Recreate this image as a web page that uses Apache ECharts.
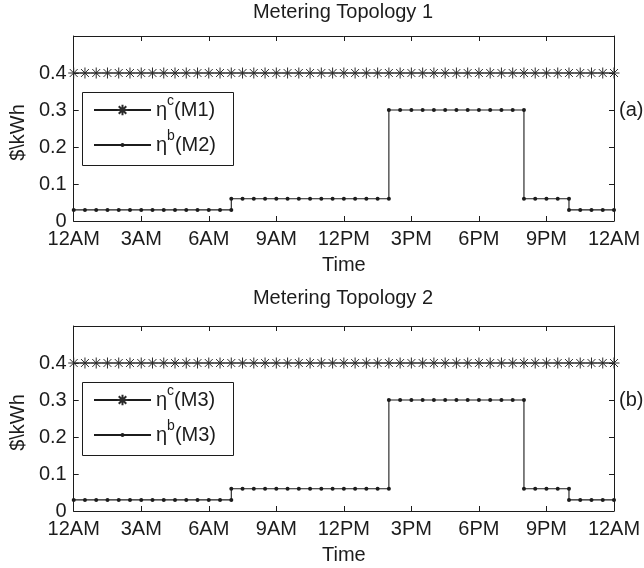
<!DOCTYPE html>
<html>
<head>
<meta charset="utf-8">
<script src="https://cdn.jsdelivr.net/npm/echarts@6/dist/echarts.min.js"></script>
<style>
html,body{margin:0;padding:0;background:#fff;}
#chart{width:644px;height:568px;}
</style>
</head>
<body>
<div id="chart"></div>
<script>
// ---------------- data ----------------
const chartTitles = ['Metering Topology 1', 'Metering Topology 2'];
const panelTags = ['(a)', '(b)'];
const xTickLabels = ['12AM', '3AM', '6AM', '9AM', '12PM', '3PM', '6PM', '9PM', '12AM'];
const yTickLabels = ['0', '0.1', '0.2', '0.3', '0.4', ''];
const xAxisTitle = 'Time';
const yAxisTitle = '$\\kWh';

// half-hour sample times (hours from midnight) for the flat tariff
const flatTimes = [0,0.5,1,1.5,2,2.5,3,3.5,4,4.5,5,5.5,6,6.5,7,7.5,8,8.5,9,9.5,10,10.5,11,11.5,
  12,12.5,13,13.5,14,14.5,15,15.5,16,16.5,17,17.5,18,18.5,19,19.5,20,20.5,21,21.5,22,22.5,23,23.5,24];
const flatPriceM1 = [0.4,0.4,0.4,0.4,0.4,0.4,0.4,0.4,0.4,0.4,0.4,0.4,0.4,0.4,0.4,0.4,0.4,0.4,0.4,0.4,
  0.4,0.4,0.4,0.4,0.4,0.4,0.4,0.4,0.4,0.4,0.4,0.4,0.4,0.4,0.4,0.4,0.4,0.4,0.4,0.4,0.4,0.4,0.4,0.4,0.4,0.4,0.4,0.4,0.4];
const flatPriceM3 = [0.4,0.4,0.4,0.4,0.4,0.4,0.4,0.4,0.4,0.4,0.4,0.4,0.4,0.4,0.4,0.4,0.4,0.4,0.4,0.4,
  0.4,0.4,0.4,0.4,0.4,0.4,0.4,0.4,0.4,0.4,0.4,0.4,0.4,0.4,0.4,0.4,0.4,0.4,0.4,0.4,0.4,0.4,0.4,0.4,0.4,0.4,0.4,0.4,0.4];

// time-of-use tariff sample times (duplicated at each price change)
const touTimes = [0,0.5,1,1.5,2,2.5,3,3.5,4,4.5,5,5.5,6,6.5,7,
  7,7.5,8,8.5,9,9.5,10,10.5,11,11.5,12,12.5,13,13.5,14,
  14,14.5,15,15.5,16,16.5,17,17.5,18,18.5,19,19.5,20,
  20,20.5,21,21.5,22,
  22,22.5,23,23.5,24];
const touPriceM2 = [0.03,0.03,0.03,0.03,0.03,0.03,0.03,0.03,0.03,0.03,0.03,0.03,0.03,0.03,0.03,
  0.06,0.06,0.06,0.06,0.06,0.06,0.06,0.06,0.06,0.06,0.06,0.06,0.06,0.06,0.06,
  0.3,0.3,0.3,0.3,0.3,0.3,0.3,0.3,0.3,0.3,0.3,0.3,0.3,
  0.06,0.06,0.06,0.06,0.06,
  0.03,0.03,0.03,0.03,0.03];
const touPriceM3 = [0.03,0.03,0.03,0.03,0.03,0.03,0.03,0.03,0.03,0.03,0.03,0.03,0.03,0.03,0.03,
  0.06,0.06,0.06,0.06,0.06,0.06,0.06,0.06,0.06,0.06,0.06,0.06,0.06,0.06,0.06,
  0.3,0.3,0.3,0.3,0.3,0.3,0.3,0.3,0.3,0.3,0.3,0.3,0.3,
  0.06,0.06,0.06,0.06,0.06,
  0.03,0.03,0.03,0.03,0.03];

// legend text pieces: series name, superscript, suffix
const legendNames = [['ηc(M1)', 'ηb(M2)'], ['ηc(M3)', 'ηb(M3)']];
const legendSup = [['c', 'b'], ['c', 'b']];
const legendSuffix = [['(M1)', '(M2)'], ['(M3)', '(M3)']];
const flatSeriesData = [flatPriceM1, flatPriceM3];
const touSeriesData = [touPriceM2, touPriceM3];

// ---------------- styling ----------------
const FONT = 'Liberation Sans';
const FS = 20;
const INK = '#1c1c1c';
const GRID_TOP = [36, 326];
const TITLE_Y = [12.5, 298];
const GRID_LEFT = 72, GRID_W = 542, GRID_H = 185;
const ASTERISK = 'path://M0,-5L0,5M-5,0L5,0M-3.6,-3.6L3.6,3.6M-3.6,3.6L3.6,-3.6';

const pairs = (xs, ys) => xs.map((x, i) => [x, ys[i]]);

const grid = [], xAxis = [], yAxis = [], series = [], legend = [], graphic = [];

for (let g = 0; g < 2; g++) {
  grid.push({ left: GRID_LEFT, top: GRID_TOP[g], width: GRID_W, height: GRID_H, containLabel: false });
  const axisLine = { show: true, onZero: false, lineStyle: { color: INK, width: 1 } };
  const tick = { show: true, inside: true, length: 5, lineStyle: { color: INK, width: 1 } };
  xAxis.push({
    type: 'value', gridIndex: g, position: 'bottom', min: 0, max: 24, interval: 3,
    axisLine, axisTick: tick, splitLine: { show: false },
    axisLabel: { color: INK, fontFamily: FONT, fontSize: FS, margin: 8,
      formatter: v => xTickLabels[Math.round(v / 3)] },
    name: xAxisTitle, nameLocation: 'middle', nameGap: 34,
    nameTextStyle: { color: INK, fontFamily: FONT, fontSize: FS }
  });
  xAxis.push({
    type: 'value', gridIndex: g, position: 'top', min: 0, max: 24, interval: 3,
    axisLine, axisTick: tick, splitLine: { show: false }, axisLabel: { show: false }
  });
  yAxis.push({
    type: 'value', gridIndex: g, position: 'left', min: 0, max: 0.5, interval: 0.1,
    axisLine, axisTick: tick, splitLine: { show: false },
    axisLabel: { color: INK, fontFamily: FONT, fontSize: FS, margin: 7,
      formatter: v => yTickLabels[Math.round(v * 10)] },
    name: yAxisTitle, nameLocation: 'middle', nameGap: 44,
    nameTextStyle: { color: INK, fontFamily: FONT, fontSize: FS, padding: [0, 8, 0, 0] }
  });
  yAxis.push({
    type: 'value', gridIndex: g, position: 'right', min: 0, max: 0.5, interval: 0.1,
    axisLine, axisTick: tick, splitLine: { show: false }, axisLabel: { show: false }
  });

  series.push({
    name: legendNames[g][0], type: 'line', xAxisIndex: 2 * g, yAxisIndex: 2 * g,
    data: pairs(flatTimes, flatSeriesData[g]),
    symbol: ASTERISK, symbolSize: 11, showSymbol: true, clip: false,
    lineStyle: { color: INK, width: 1.2 },
    itemStyle: { color: '#2a2a2a', borderColor: '#2a2a2a', borderWidth: 1 },
    emphasis: { disabled: true }, z: 3
  });
  series.push({
    name: legendNames[g][1], type: 'line', xAxisIndex: 2 * g, yAxisIndex: 2 * g,
    data: pairs(touTimes, touSeriesData[g]),
    symbol: 'circle', symbolSize: 4, showSymbol: true, clip: false,
    lineStyle: { color: INK, width: 1.1 },
    itemStyle: { color: INK, borderWidth: 0 },
    emphasis: { disabled: true }, z: 3
  });

  const off = GRID_TOP[g] - GRID_TOP[0];
  const legRows = [{ center: 111 + off, ih: 13 }, { center: 146 + off, ih: 5 }];
  const richH = 34;
  for (let k = 0; k < 2; k++) {
    const nm = legendNames[g][k];
    legend.push({
      data: [nm], orient: 'vertical', left: 93, top: legRows[k].center - richH / 2, padding: 0,
      itemWidth: 57, itemHeight: legRows[k].ih, itemGap: 0, itemTextGap: 4,
      selectedMode: false, borderWidth: 0, backgroundColor: 'transparent', z: 10,
      formatter: () => '{t|η}{s|' + legendSup[g][k] + '}{t|' + legendSuffix[g][k] + '}',
      textStyle: {
        color: INK, fontFamily: FONT, fontSize: FS,
        rich: {
          t: { color: INK, fontFamily: FONT, fontSize: FS, lineHeight: 22 },
          s: { color: INK, fontFamily: FONT, fontSize: 14, lineHeight: 14, padding: [0, 0, 18, 0] }
        }
      }
    });
  }

  graphic.push({
    type: 'rect', shape: { x: 82.5, y: 92.5 + off, width: 151, height: 73 },
    style: { fill: '#fff', stroke: INK, lineWidth: 1 }, z: 5
  });
  graphic.push({
    type: 'text', x: 343, y: TITLE_Y[g],
    style: { text: chartTitles[g], font: FS + 'px "' + FONT + '"', fill: INK, align: 'center', verticalAlign: 'middle' }
  });
  graphic.push({
    type: 'text', x: 619, y: 110.5 + off,
    style: { text: panelTags[g], font: FS + 'px "' + FONT + '"', fill: INK, align: 'left', verticalAlign: 'middle' }
  });
}

const chart = echarts.init(document.getElementById('chart'), null, { renderer: 'canvas' });
chart.setOption({
  animation: false,
  backgroundColor: '#fff',
  grid, xAxis, yAxis, series, legend, graphic
});
</script>
</body>
</html>
